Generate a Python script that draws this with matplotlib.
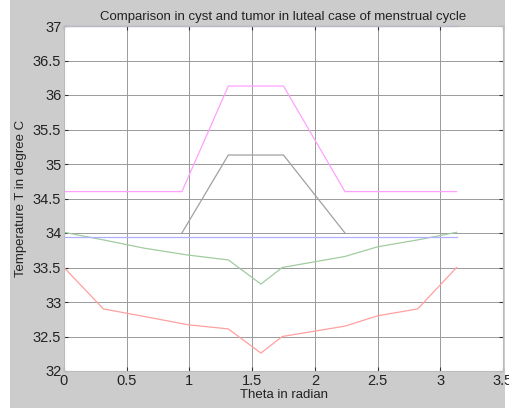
import numpy as np
import matplotlib
matplotlib.use('Agg')
import matplotlib.pyplot as plt
from matplotlib.patches import Rectangle

# theta values (radian)
theta = [0, 0.314, 0.64, 0.99, 1.31, 1.57, 1.74, 2.24, 2.50, 2.82, 3.13]
t_red = [33.5, 32.9, 32.79, 32.67, 32.61, 32.26, 32.5, 32.65, 32.8, 32.9, 33.5]
t_green = [34.01, 33.9, 33.78, 33.68, 33.61, 33.26, 33.5, 33.66, 33.8, 33.9, 34.01]

theta_mag = [0, 0.94, 1.31, 1.75, 2.24, 3.13]
t_mag = [34.6, 34.6, 36.13, 36.13, 34.6, 34.6]

theta_gray = [0.94, 1.31, 1.75, 2.24]
t_gray = [34.0, 35.13, 35.13, 34.0]

theta_blue = [0, 3.13]
t_blue_top = [37.0, 37.0]
t_blue_low = [33.94, 33.94]

xticks = [0, 0.5, 1, 1.5, 2, 2.5, 3, 3.5]
yticks = [32, 32.5, 33, 33.5, 34, 34.5, 35, 35.5, 36, 36.5, 37]

plt.rcParams['font.family'] = ['Liberation Sans', 'DejaVu Sans']

fig = plt.figure(figsize=(5.09, 4.08), dpi=100, facecolor='white')
fig.patches.append(Rectangle((10 / 509, 0), 495 / 509, 1, transform=fig.transFigure,
                             facecolor='#cccccc', edgecolor='none', zorder=-10))
ax = fig.add_axes([64 / 509, 1 - 371 / 408, 439 / 509, 345 / 408])
ax.set_facecolor('white')

ax.plot(theta, t_red, color='#ffa0a0', lw=0.9)
ax.plot(theta, t_green, color='#a0cca0', lw=0.9)
ax.plot(theta_mag, t_mag, color='#ffa0ff', lw=0.9)
ax.plot(theta_gray, t_gray, color='#a0a0a0', lw=0.9)
ax.plot(theta_blue, t_blue_top, color='#8888ff', lw=0.9, clip_on=False)
ax.plot(theta_blue, t_blue_low, color='#b0b0ff', lw=0.9)

ax.set_xlim(0, 3.5)
ax.set_ylim(32, 37)
ax.set_xticks(xticks)
ax.set_xticklabels(['0', '0.5', '1', '1.5', '2', '2.5', '3', '3.5'])
ax.set_yticks(yticks)
ax.set_yticklabels(['32', '32.5', '33', '33.5', '34', '34.5', '35', '35.5', '36', '36.5', '37'])
ax.grid(True, color='#9a9a9a', lw=0.7)
ax.tick_params(direction='in', length=3, top=True, right=True, labelsize=10.5,
               colors='#333333', labelcolor='#222222', pad=2)
for s in ax.spines.values():
    s.set_color('#bbbbbb')

ax.set_title('Comparison in cyst and tumor in luteal case of menstrual cycle', fontsize=9.5,
             color='#222222', pad=4)
ax.set_xlabel('Theta in radian', fontsize=9.5, color='#222222', labelpad=1)
ax.set_ylabel('Temperature T in degree C', fontsize=9.5, color='#222222', labelpad=4)

fig.savefig('out.png', dpi=100, facecolor=fig.get_facecolor())
